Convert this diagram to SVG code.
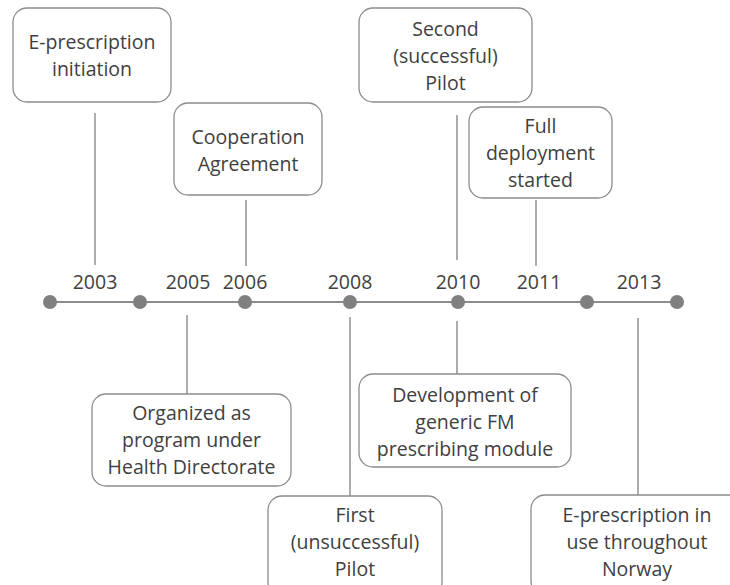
<svg xmlns="http://www.w3.org/2000/svg" width="730" height="585" viewBox="0 0 730 585">
<style>
.box{fill:#ffffff;stroke:#8c8c8c;stroke-width:1.3}
.lbl{font-family:"Open Sans","Liberation Sans",sans-serif;font-size:19.5px;fill:#404040;text-anchor:middle}
.conn{stroke:#808080;stroke-width:1.3;fill:none}
.axis{stroke:#8c8c8c;stroke-width:2;fill:none}
.dot{fill:#808080}
</style>
<rect width="730" height="585" fill="#ffffff"/>
<g id="connectors">
<line class="conn" x1="95" y1="113" x2="95" y2="265"/>
<line class="conn" x1="246" y1="200" x2="246" y2="266"/>
<line class="conn" x1="457" y1="115" x2="457" y2="260"/>
<line class="conn" x1="536" y1="200" x2="536" y2="266"/>
<line class="conn" x1="187" y1="315" x2="187" y2="394"/>
<line class="conn" x1="350" y1="317" x2="350" y2="496"/>
<line class="conn" x1="457" y1="321" x2="457" y2="374"/>
<line class="conn" x1="638" y1="318" x2="638" y2="495"/>
</g>
<g id="timeline">
<line class="axis" x1="50" y1="302" x2="677" y2="302"/>
<circle class="dot" cx="50" cy="302" r="7"/>
<circle class="dot" cx="140" cy="302" r="7"/>
<circle class="dot" cx="245" cy="302" r="7"/>
<circle class="dot" cx="350" cy="302" r="7"/>
<circle class="dot" cx="458" cy="302" r="7"/>
<circle class="dot" cx="587" cy="302" r="7"/>
<circle class="dot" cx="677" cy="302" r="7"/>
<text class="lbl" x="95" y="289">2003</text>
<text class="lbl" x="188" y="289">2005</text>
<text class="lbl" x="245" y="289">2006</text>
<text class="lbl" x="350" y="289">2008</text>
<text class="lbl" x="458" y="289">2010</text>
<text class="lbl" x="539" y="289">2011</text>
<text class="lbl" x="639" y="289">2013</text>
</g>
<g id="n2003">
<rect class="box" x="13" y="8" width="158" height="94" rx="14"/>
<text class="lbl" x="92" y="49">E-prescription</text>
<text class="lbl" x="92" y="76">initiation</text>
</g>
<g id="n2006">
<rect class="box" x="174" y="103" width="148" height="92" rx="14"/>
<text class="lbl" x="248" y="144">Cooperation</text>
<text class="lbl" x="248" y="171">Agreement</text>
</g>
<g id="n2010a">
<rect class="box" x="359" y="8" width="173" height="94" rx="14"/>
<text class="lbl" x="445.5" y="36">Second</text>
<text class="lbl" x="445.5" y="63">(successful)</text>
<text class="lbl" x="445.5" y="90">Pilot</text>
</g>
<g id="n2011">
<rect class="box" x="469" y="107" width="143" height="91" rx="14"/>
<text class="lbl" x="540.5" y="133">Full</text>
<text class="lbl" x="540.5" y="160">deployment</text>
<text class="lbl" x="540.5" y="187">started</text>
</g>
<g id="n2005">
<rect class="box" x="92" y="394" width="199" height="92" rx="14"/>
<text class="lbl" x="191.5" y="420">Organized as</text>
<text class="lbl" x="191.5" y="447">program under</text>
<text class="lbl" x="191.5" y="474">Health Directorate</text>
</g>
<g id="n2008">
<rect class="box" x="268" y="496" width="174" height="100" rx="14"/>
<text class="lbl" x="355" y="522">First</text>
<text class="lbl" x="355" y="549">(unsuccessful)</text>
<text class="lbl" x="355" y="576">Pilot</text>
</g>
<g id="n2010b">
<rect class="box" x="359" y="374" width="212" height="93" rx="14"/>
<text class="lbl" x="465" y="402">Development of</text>
<text class="lbl" x="465" y="429">generic FM</text>
<text class="lbl" x="465" y="456">prescribing module</text>
</g>
<g id="n2013">
<rect class="box" x="531" y="495" width="214" height="100" rx="14"/>
<text class="lbl" x="637" y="522">E-prescription in</text>
<text class="lbl" x="637" y="549">use throughout</text>
<text class="lbl" x="637" y="576">Norway</text>
</g>
</svg>
